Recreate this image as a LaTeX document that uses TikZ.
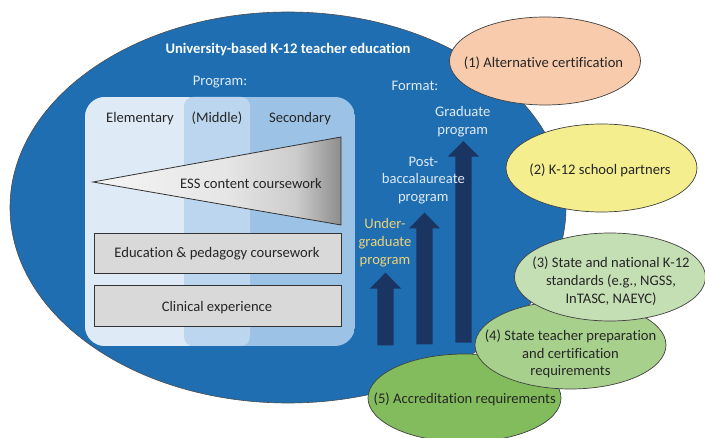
\documentclass[tikz,border=0pt]{standalone}
\usepackage{fontspec}
\setmainfont[Ligatures=NoCommon]{Carlito}
\usetikzlibrary{shapes.geometric,shadings}
\definecolor{bigblue}{HTML}{1F6EB2}
\definecolor{navy}{HTML}{1B3563}
\definecolor{elem}{HTML}{DEEAF6}
\definecolor{midd}{HTML}{BBD6EE}
\definecolor{secd}{HTML}{9CC2E5}
\definecolor{barg}{HTML}{D9D9D9}
\definecolor{peach}{HTML}{F7CBAC}
\definecolor{yel}{HTML}{F4EE8E}
\definecolor{g3}{HTML}{C5DFB4}
\definecolor{g4}{HTML}{A8D08D}
\definecolor{g5}{HTML}{82BC5C}
\definecolor{ugold}{HTML}{EAD27A}
\definecolor{txt}{HTML}{262626}
\pgfdeclarehorizontalshading{wedgeg}{100bp}{color(0bp)=(white!96!black); color(25bp)=(white!96!black); color(52bp)=(white!90!black); color(66bp)=(white!80!black); color(75bp)=(white!55!black); color(100bp)=(white!55!black)}
\tikzset{
 x=1pt,y=1pt,
 every node/.style={font=\fontsize{14.6}{17.7}\selectfont,text=txt,align=center,inner sep=0pt},
 lay/.style={draw=black!80,fill=barg,line width=.8pt,minimum width=247pt,text depth=0pt},
 uparrow/.style={fill=navy},
 onblue/.style={text=elem},
 oval/.style={ellipse,draw=black!75,line width=.7pt,minimum width=191pt,minimum height=88pt}
}
\begin{document}
\begin{tikzpicture}
\useasboundingbox (0,0) rectangle (705,-438);
\fill[white] (0,0) rectangle (705,-438);
\node[ellipse,fill=bigblue,draw=black!70,line width=.6pt,minimum width=556pt,minimum height=391pt] (big) at (288,-207.5) {};
\node[font=\fontsize{14.6}{17.7}\selectfont\bfseries,text=white] (title) at (288,-49.5) {University-based K-12 teacher education};
\node[onblue] (prog) at (220,-82.5) {Program:};
\node[onblue] (form) at (415,-85.5) {Format:};
% program panel
\begin{scope}
\clip[rounded corners=20pt] (85,-97) rectangle (355,-346);
\fill[secd] (85,-97) rectangle (355,-346);
\fill[elem] (85,-97) rectangle (190,-346);
\fill[midd,rounded corners=9pt] (184,-97) rectangle (250,-346);
\end{scope}
\node (el) at (140,-118.5) {Elementary};
\node (mi) at (217,-118.5) {(Middle)};
\node (se) at (300,-118.5) {Secondary};
% wedge
\shade[shading=wedgeg] (93,-182) -- (341,-137) -- (341,-225) -- cycle;
\draw[black!80,line width=.8pt,line join=miter] (93,-182) -- (341,-137) -- (341,-225) -- cycle;
\node (ess) at (251,-183.5) {ESS content coursework};
\node[draw=black!80,fill=barg,line width=.8pt,minimum width=247pt,minimum height=40pt] (edu) at (217.5,-253) {};
\node (edut) at (217,-253.5) {Education \& pedagogy coursework};
\node[draw=black!80,fill=barg,line width=.8pt,minimum width=247pt,minimum height=41pt] (clin) at (217.5,-306) {};
\node (clint) at (217,-308) {Clinical experience};
% arrows
\fill[uparrow] (377.3,-345.3) -- (377.3,-288.7) -- (369.7,-288.7) -- (385.5,-272.7) -- (401.3,-288.7) -- (393.7,-288.7) -- (393.7,-345.3) -- cycle;
\fill[uparrow] (416.3,-344.3) -- (416.3,-228.3) -- (409,-228.3) -- (424.5,-212.7) -- (440,-228.3) -- (432.7,-228.3) -- (432.7,-344.3) -- cycle;
\fill[uparrow] (455.3,-342.7) -- (455.3,-156.7) -- (447.7,-156.7) -- (463.4,-141) -- (479,-156.7) -- (471.7,-156.7) -- (471.7,-342.7) -- cycle;
\node[text=ugold] (l1) at (385,-242.5) {Under-\\graduate\\program};
\node[onblue] (l2) at (423.3,-180.5) {Post-\\baccalaureate\\program};
\node[onblue] (l3) at (462.7,-121.5) {Graduate\\program};
% ovals
\node[oval,fill=peach] (o1) at (545,-61) {};
\node (o1t) at (543.5,-63) {(1) Alternative certification};
\node[oval,fill=yel] (o2) at (601.5,-168) {};
\node (o2t) at (600,-170) {(2) K-12 school partners};
\node[oval,fill=g5,minimum width=193pt] (o5) at (464.5,-398) {};
\node (o5t) at (464.7,-399.5) {(5) Accreditation requirements};
\node[oval,fill=g4] (o4) at (570.5,-345) {};
\node (o4t) at (570.5,-354) {(4) State teacher preparation\\and certification\\requirements};
\node[oval,fill=g3] (o3) at (610,-277) {};
\node (o3t) at (611,-281) {(3) State and national K-12\\standards (e.g., NGSS,\\InTASC, NAEYC)};
\end{tikzpicture}
\end{document}
